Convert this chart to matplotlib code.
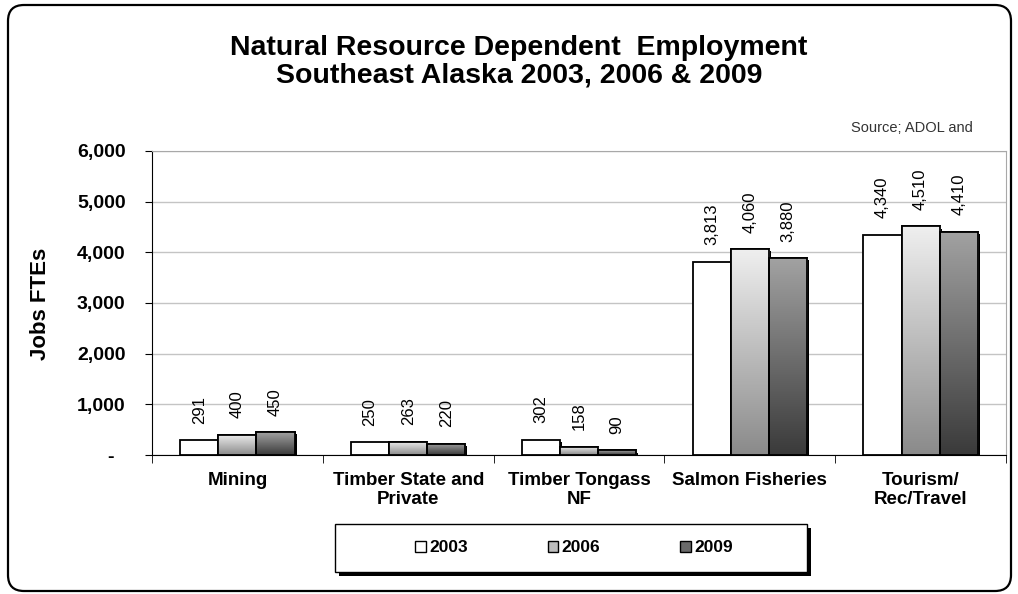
import numpy as np
import matplotlib
matplotlib.use('Agg')
import matplotlib.pyplot as plt
import matplotlib.patheffects as pe
from matplotlib.patches import FancyBboxPatch, Rectangle, Patch
from matplotlib.colors import LinearSegmentedColormap

# data
categories = ['Mining', 'Timber State and\nPrivate', 'Timber Tongass\nNF',
              'Salmon Fisheries', 'Tourism/\nRec/Travel']
years = ['2003', '2006', '2009']
jobs_2003 = [291, 250, 302, 3813, 4340]
jobs_2006 = [400, 263, 158, 4060, 4510]
jobs_2009 = [450, 220, 90, 3880, 4410]
y_ticks = [0, 1000, 2000, 3000, 4000, 5000, 6000]
y_tick_labels = ['-  ', '1,000', '2,000', '3,000', '4,000', '5,000', '6,000']

plt.rcParams['font.family'] = ['Liberation Sans', 'DejaVu Sans']

fig = plt.figure(figsize=(10.18, 5.94), dpi=100)

# background layer in pixel coords for the rounded frame and legend box
bg = fig.add_axes([0, 0, 1, 1])
bg.set_xlim(0, 1018)
bg.set_ylim(594, 0)
bg.axis('off')
bg.add_patch(FancyBboxPatch((8, 5), 1003, 586, boxstyle='round,pad=0,rounding_size=16',
                            fc='white', ec='black', lw=1.6))
# legend box with shadow
bg.add_patch(Rectangle((339, 528), 472, 48, fc='black', ec='black', lw=0))
bg.add_patch(Rectangle((335, 524), 472, 48, fc='white', ec='black', lw=1))

fig.text(0.51, 1 - 62 / 594, 'Natural Resource Dependent  Employment\nSoutheast Alaska 2003, 2006 & 2009',
         ha='center', va='center', fontsize=20.5, fontweight='bold', linespacing=1.08)
fig.text(973 / 1018, 1 - 128 / 594, 'Source; ADOL and', ha='right', va='center',
         fontsize=10.5, color='#333333')

ax = fig.add_axes([152 / 1018, 139 / 594, 854 / 1018, 304 / 594])
x = np.arange(len(categories))
w = 0.223
shadow = [pe.SimplePatchShadow(offset=(1.5, -1.5), shadow_rgbFace='black', alpha=1), pe.Normal()]

b03 = ax.bar(x - w, jobs_2003, w, color='white', edgecolor='black', lw=1.3, zorder=3,
             path_effects=shadow)
b06 = ax.bar(x, jobs_2006, w, color='white', edgecolor='black', lw=1.3, zorder=3,
             path_effects=shadow)
b09 = ax.bar(x + w, jobs_2009, w, color='white', edgecolor='black', lw=1.3, zorder=3,
             path_effects=shadow)

def shade(bars, top, bottom):
    cmap = LinearSegmentedColormap.from_list('g', [top, bottom])
    grad = np.linspace(0, 1, 256).reshape(-1, 1)
    for b in bars:
        x0, y0 = b.get_x(), b.get_y()
        im = ax.imshow(grad, cmap=cmap, extent=(x0, x0 + b.get_width(), y0, y0 + b.get_height()),
                       origin='upper', aspect='auto', zorder=3.1, interpolation='bilinear')
        im.set_clip_path(b)
        # outline on top of the gradient
        ax.add_patch(Rectangle((x0, y0), b.get_width(), b.get_height(), fc='none',
                               ec='black', lw=1.3, zorder=3.2))

shade(b06, '#efefef', '#8a8a8a')
shade(b09, '#a2a2a2', '#3a3a3a')

for bars, vals in [(b03, jobs_2003), (b06, jobs_2006), (b09, jobs_2009)]:
    for b, v in zip(bars, vals):
        ax.annotate(f'{v:,}', (b.get_x() + b.get_width() / 2, v), xytext=(0, 12),
                    textcoords='offset points', rotation=90, ha='center', va='bottom',
                    fontsize=12)

ax.set_xlim(-0.5, len(categories) - 0.5)
ax.set_ylim(0, 6000)
ax.set_yticks(y_ticks)
ax.set_yticklabels(y_tick_labels, fontsize=14, fontweight='bold')
ax.set_xticks(x)
ax.set_xticklabels(categories, fontsize=13.5, fontweight='bold')
ax.set_xticks(np.arange(-0.5, len(categories)), minor=True)
ax.tick_params(axis='x', which='major', length=0, pad=12)
ax.tick_params(axis='x', which='minor', length=6, direction='out')
ax.tick_params(axis='y', length=5, direction='out', pad=14)
ax.yaxis.grid(True, color='#c4c4c4', lw=1)
ax.set_axisbelow(True)
for s in ['top', 'right']:
    ax.spines[s].set_color('#a8a8a8')
ax.spines['left'].set_color('black')
ax.spines['bottom'].set_color('black')

fig.text(40 / 1018, 1 - 304 / 594, 'Jobs FTEs', rotation=90, ha='center', va='center',
         fontsize=16, fontweight='bold')

handles = [Patch(fc='white', ec='black', lw=1), Patch(fc='#bdbdbd', ec='black', lw=1),
           Patch(fc='#6a6a6a', ec='black', lw=1)]
fig.legend(handles, years, loc='center', bbox_to_anchor=(574 / 1018, 1 - 548 / 594), ncol=3,
           frameon=False, handlelength=0.6, handleheight=0.6, handletextpad=0.2,
           columnspacing=4.6, prop={'size': 12.5, 'weight': 'bold'})

fig.savefig('out.png', dpi=100, facecolor='white')
